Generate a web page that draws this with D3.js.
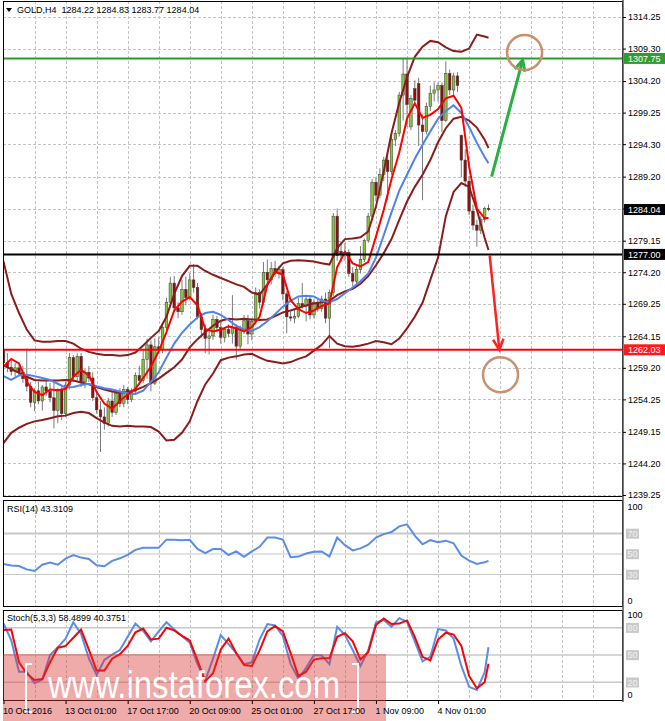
<!DOCTYPE html>
<html>
<head>
<meta charset="utf-8">
<script src="https://cdn.jsdelivr.net/npm/d3@7"></script>
<style>
html, body { margin: 0; padding: 0; background: #fff; }
svg { display: block; font-family: "Liberation Sans", Arial, sans-serif; }
</style>
</head>
<body>
<div id="chart"></div>
<script>
// GOLD H4, 10 Oct - 8 Nov 2016, one entry per H4 bar (bar index = position)
var opens = [
  1262.0,1260.0,1259.3,1258.6,1259.2,1258.5,1257.5,1256.3,1253.8,1255.6,
  1254.0,1256.2,1255.5,1254.5,1252.5,1255.8,1252.0,1256.5,1260.8,1257.8,
  1261.0,1257.0,1258.5,1257.6,1254.5,1252.6,1251.5,1250.5,1254.0,1252.2,
  1255.2,1253.6,1255.8,1254.2,1255.5,1258.0,1257.2,1260.5,1262.8,1256.8,
  1262.5,1262.0,1265.5,1269.5,1272.5,1268.6,1268.0,1271.5,1270.2,1273.0,
  1271.8,1267.2,1265.2,1263.8,1264.2,1266.8,1265.5,1264.0,1265.2,1264.6,
  1265.5,1262.6,1265.2,1266.6,1264.5,1266.5,1271.0,1269.5,1274.2,1273.0,
  1274.8,1274.0,1274.6,1270.8,1267.2,1267.0,1267.3,1269.3,1268.8,1270.0,
  1267.5,1269.5,1268.5,1270.0,1267.0,1271.0,1283.0,1277.5,1277.0,1277.3,
  1274.0,1272.8,1274.6,1276.2,1279.2,1283.0,1288.3,1286.3,1289.5,1291.8,
  1290.0,1295.0,1296.0,1302.0,1305.3,1297.0,1303.0,1303.8,1297.3,1296.3,
  1300.2,1302.3,1302.8,1303.5,1298.0,1305.4,1302.8,1305.0,1295.7,1291.8,
  1288.5,1283.8,1281.6,1280.8,1282.5,1284.22
];
var highs = [
  1264.6,1261.5,1260.5,1260.0,1260.0,1259.5,1262.2,1257.0,1256.0,1257.0,
  1256.5,1257.5,1256.8,1257.0,1256.0,1256.3,1257.0,1261.5,1261.2,1261.5,
  1261.5,1259.0,1259.5,1258.5,1255.3,1254.0,1253.0,1254.5,1255.5,1255.6,
  1256.0,1256.5,1256.2,1256.0,1258.5,1259.5,1262.0,1263.8,1263.5,1263.8,
  1264.0,1266.0,1270.2,1273.5,1273.6,1269.5,1273.0,1273.5,1274.0,1275.5,
  1272.5,1267.8,1266.0,1265.0,1267.5,1267.3,1266.5,1265.6,1266.0,1270.6,
  1266.0,1265.8,1267.5,1267.5,1267.0,1271.8,1271.5,1275.8,1276.2,1275.8,
  1276.0,1275.2,1275.0,1271.2,1268.0,1268.3,1270.2,1272.5,1270.5,1270.6,
  1270.0,1270.2,1270.5,1271.0,1271.5,1283.5,1284.2,1279.0,1278.8,1277.8,
  1275.0,1275.2,1278.3,1279.5,1283.5,1288.8,1289.0,1290.5,1292.3,1292.8,
  1295.5,1296.5,1302.5,1307.8,1307.8,1302.0,1304.3,1304.7,1299.0,1300.8,
  1303.5,1304.0,1304.0,1304.0,1307.3,1306.0,1305.5,1305.6,1295.8,1293.5,
  1289.3,1284.8,1282.4,1283.0,1284.5,1284.83
];
var lows = [
  1259.0,1258.5,1258.0,1257.8,1258.0,1256.8,1255.5,1253.0,1252.4,1253.5,
  1252.5,1254.8,1253.8,1249.7,1250.5,1251.0,1251.5,1255.8,1257.0,1257.2,
  1256.2,1256.0,1257.0,1254.0,1252.0,1246.0,1249.5,1250.0,1251.5,1251.8,
  1253.0,1253.0,1253.5,1253.8,1255.0,1256.5,1256.8,1257.5,1255.5,1256.5,
  1261.5,1261.5,1265.0,1269.0,1268.0,1267.0,1267.5,1269.0,1269.8,1271.0,
  1266.8,1264.0,1261.5,1261.3,1263.6,1264.8,1263.0,1263.2,1264.0,1263.0,
  1260.5,1262.0,1264.5,1262.9,1263.5,1266.0,1268.5,1269.0,1272.0,1272.3,
  1273.5,1273.2,1269.8,1264.6,1266.5,1266.2,1267.0,1268.5,1266.5,1266.8,
  1267.0,1268.0,1268.0,1266.2,1262.3,1270.5,1276.0,1275.8,1276.0,1273.5,
  1272.0,1272.3,1274.0,1275.8,1278.8,1282.5,1285.3,1285.8,1288.5,1285.5,
  1289.5,1294.0,1295.5,1298.0,1297.0,1296.5,1300.8,1294.0,1285.5,1295.8,
  1299.5,1301.0,1301.0,1296.2,1297.8,1302.0,1301.8,1302.5,1289.1,1287.6,
  1283.2,1280.8,1278.2,1280.2,1282.0,1283.77
];
var closes = [
  1260.0,1259.3,1258.6,1259.2,1258.5,1257.5,1256.3,1253.8,1255.6,1254.0,
  1256.2,1255.5,1254.5,1252.5,1255.8,1252.0,1256.5,1260.8,1257.8,1261.0,
  1257.0,1258.5,1257.6,1254.5,1252.6,1251.5,1250.5,1254.0,1252.2,1255.2,
  1253.6,1255.8,1254.2,1255.5,1258.0,1257.2,1260.5,1262.8,1256.8,1262.5,
  1262.0,1265.5,1269.5,1272.5,1268.6,1268.0,1271.5,1270.2,1273.0,1271.8,
  1267.2,1265.2,1263.8,1264.2,1266.8,1265.5,1264.0,1265.2,1264.6,1265.5,
  1262.6,1265.2,1266.6,1264.5,1266.5,1271.0,1269.5,1274.2,1273.0,1274.8,
  1274.0,1274.6,1270.8,1267.2,1267.0,1267.3,1269.3,1268.8,1270.0,1267.5,
  1269.5,1268.5,1270.0,1267.0,1271.0,1283.0,1276.8,1277.0,1277.3,1274.0,
  1272.8,1274.6,1276.2,1279.2,1283.0,1288.3,1286.3,1289.5,1291.8,1290.0,
  1295.0,1296.0,1302.0,1305.3,1300.5,1301.5,1301.2,1297.3,1296.3,1300.2,
  1302.3,1302.8,1303.5,1298.0,1305.4,1302.8,1305.0,1303.5,1291.8,1288.5,
  1283.8,1281.6,1280.8,1282.5,1284.2,1284.04
];

// indicator readings, taken every 2nd bar (0,2,...,124) plus the last bar 125
var fastMA = [
  1259.4,1260.6,1259.9,1257.0,1255.4,1254.9,1255.8,1255.7,1255.9,1257.8,
  1258.9,1258.0,1255.4,1253.6,1252.8,1254.0,1255.0,1255.9,1257.6,1259.4,
  1261.8,1264.8,1268.2,1269.6,1270.3,1269.0,1265.3,1264.9,1265.2,1265.7,
  1265.4,1264.9,1265.6,1267.2,1272.2,1274.3,1273.8,1269.8,1268.4,1267.8,
  1268.2,1268.9,1269.3,1275.0,1277.4,1275.6,1275.1,1275.8,1279.8,1284.0,
  1288.8,1293.0,1298.3,1300.7,1298.4,1298.9,1299.8,1301.5,1301.9,1300.0,
  1290.8,1284.2,1282.7,1282.7
];
var slowMA = [
  1257.9,1257.3,1258.0,1258.1,1257.9,1257.6,1257.3,1256.7,1256.1,1256.2,
  1256.5,1256.7,1256.3,1256.0,1255.8,1255.5,1255.2,1255.1,1255.6,1257.0,
  1258.5,1260.8,1263.0,1264.7,1266.0,1267.1,1267.8,1268.0,1267.5,1266.7,
  1265.8,1265.2,1265.0,1265.6,1266.5,1267.6,1268.8,1269.7,1270.4,1270.5,
  1270.4,1269.7,1269.5,1270.0,1270.9,1271.8,1272.8,1274.0,1276.5,1280.0,
  1283.6,1287.0,1289.5,1292.0,1294.2,1296.3,1298.3,1299.5,1300.4,1299.2,
  1297.0,1294.5,1292.3,1291.3
];
var bandUpper = [
  1275.9,1270.8,1267.8,1265.2,1263.5,1263.3,1263.3,1263.4,1263.4,1263.0,
  1262.2,1261.7,1261.4,1261.2,1261.2,1261.1,1261.2,1261.6,1262.7,1263.9,
  1265.0,1267.2,1270.8,1273.6,1275.2,1275.2,1274.4,1273.8,1273.3,1272.8,
  1272.3,1271.9,1271.0,1270.7,1272.3,1274.2,1275.6,1276.0,1276.1,1276.0,
  1275.9,1275.6,1275.4,1278.0,1279.4,1279.5,1279.7,1280.6,1284.5,1290.0,
  1296.0,1300.8,1304.8,1308.0,1309.6,1310.5,1310.3,1309.5,1308.9,1308.8,
  1309.3,1311.5,1311.2,1311.0
];
var bandMiddle = [
  1259.6,1259.0,1258.4,1257.8,1257.3,1257.2,1257.2,1257.2,1257.3,1257.2,
  1256.9,1256.6,1256.2,1255.8,1255.5,1255.3,1255.4,1255.7,1256.2,1256.8,
  1257.5,1258.4,1259.3,1260.5,1262.4,1263.7,1264.8,1265.8,1266.6,1266.9,
  1266.8,1266.9,1266.8,1266.7,1266.8,1267.3,1267.9,1268.2,1268.6,1269.0,
  1269.3,1269.5,1269.7,1270.6,1271.2,1271.6,1272.4,1273.6,1275.3,1277.2,
  1279.4,1282.4,1285.3,1287.6,1289.5,1291.8,1294.6,1296.8,1298.3,1298.6,
  1298.0,1296.9,1295.0,1293.7
];
var bandLower = [
  1247.4,1249.0,1249.8,1250.4,1250.8,1251.0,1251.3,1251.6,1251.7,1252.1,
  1252.3,1252.1,1251.3,1250.6,1250.1,1250.0,1250.1,1250.0,1250.0,1249.9,
  1249.2,1247.8,1247.9,1249.0,1250.8,1254.0,1256.6,1258.3,1260.4,1260.8,
  1261.0,1261.3,1261.4,1260.8,1260.3,1260.1,1259.9,1260.1,1260.6,1261.0,
  1261.9,1262.8,1264.2,1263.0,1262.6,1262.5,1262.7,1263.0,1263.4,1263.2,
  1262.9,1263.8,1265.4,1267.2,1269.4,1273.0,1276.5,1283.0,1286.8,1288.2,
  1287.6,1284.0,1279.6,1277.7
];
var rsi = [
  40.3,38.8,38.2,35.0,33.5,39.5,41.6,39.5,45.5,49.0,
  46.5,45.2,39.0,38.0,43.3,45.8,49.2,54.0,56.0,56.0,
  56.0,64.0,63.8,63.5,63.8,55.0,50.8,54.8,54.8,49.0,
  52.5,47.2,52.5,57.0,66.0,66.1,64.0,46.8,47.5,50.5,
  52.2,52.5,47.5,66.0,58.6,53.5,55.5,59.0,66.0,69.4,
  71.5,77.0,79.0,68.0,59.5,63.5,61.5,63.0,60.5,48.5,
  43.5,40.3,41.9,43.3
];
var stochK = [
  84.8,66.0,31.5,31.5,19.0,23.0,50.0,58.5,68.0,86.0,
  73.0,46.3,28.0,44.5,50.5,55.5,70.0,84.5,76.5,65.0,
  76.0,86.0,78.0,71.0,63.5,40.0,22.0,46.0,72.0,62.0,
  52.0,40.0,42.0,67.0,84.0,82.5,71.0,40.0,24.0,36.0,
  50.0,49.5,40.0,81.0,72.0,55.5,38.0,55.0,86.0,88.5,
  81.0,90.5,86.5,65.0,43.0,48.0,78.5,77.0,68.0,38.0,
  15.0,11.6,31.0,58.5
];
var stochD = [
  77.4,78.0,42.0,29.5,22.5,23.5,42.0,58.0,60.0,69.0,
  78.0,56.0,33.0,33.0,46.0,51.0,60.0,75.0,79.0,67.0,
  68.0,80.0,77.0,71.0,66.0,44.0,21.0,30.0,56.0,68.0,
  52.0,39.0,38.0,55.0,76.0,82.0,76.0,52.0,27.0,31.7,
  45.0,46.3,46.3,70.0,74.0,65.0,45.0,53.0,83.0,90.2,
  84.0,84.5,88.0,70.0,48.0,44.0,67.0,74.5,72.5,60.0,
  27.0,13.5,20.0,40.4
];

var priceTicks = [1314.25,1309.30,1304.20,1299.25,1294.30,1289.20,1284.20,1279.15,
                  1274.20,1269.25,1264.15,1259.20,1254.25,1249.15,1244.20,1239.25];
var dateBars = [0,16,32,48,64,80,96,112];
var dateLabels = ["10 Oct 2016","13 Oct 01:00","17 Oct 17:00","20 Oct 09:00",
                  "25 Oct 01:00","27 Oct 17:00","1 Nov 09:00","4 Nov 01:00"];
var levelPrices = [1307.75, 1277.00, 1262.03];
var bidPrice = 1284.04;
var rsiLevels = [70, 50, 30];
var stochLevels = [80, 50, 20];

// analyst marks (bar, price)
var upArrow = [[125.8, 1289.2], [133.8, 1307.5]];
var downArrow = [[125.3, 1276.9], [127.8, 1262.0]];
var targets = [[134.3, 1308.7], [128.1, 1258.1]];

var W = 665, H = 721, L = 3, R = 623;
var sampleBars = d3.range(0, 125, 2).concat([125]);

var svg = d3.select("#chart").append("svg").attr("width", W).attr("height", H);

var x = d3.scaleLinear().domain([0, 125]).range([3.5, 488.5]);
var yP = d3.scaleLinear().domain([1238.93, 1316.45]).range([497, 3]);
var yR = d3.scaleLinear().domain([0, 100]).range([605.25, 502.75]);
var yS = d3.scaleLinear().domain([0, 100]).range([700.5, 609.5]);

var panels = [
  { id: "clipMain", top: 1, bot: 497 },
  { id: "clipRsi", top: 500, bot: 607 },
  { id: "clipSto", top: 610, bot: 701 }
];
var defs = svg.append("defs");
panels.forEach(function (p) {
  defs.append("clipPath").attr("id", p.id).append("rect")
    .attr("x", L).attr("y", p.top).attr("width", R - L).attr("height", p.bot - p.top);
});

// vertical dashed grid in every panel
var gridBars = d3.range(8, 160, 8);
panels.forEach(function (p) {
  svg.append("g").selectAll("line").data(gridBars).join("line")
    .attr("x1", function (d) { return Math.round(x(d)) + 0.5; })
    .attr("x2", function (d) { return Math.round(x(d)) + 0.5; })
    .attr("y1", p.top).attr("y2", p.bot)
    .attr("stroke", "#c4c4c4").attr("stroke-dasharray", "3,2");
});
// horizontal grid in price panel
svg.append("g").selectAll("line").data(priceTicks).join("line")
  .attr("x1", L).attr("x2", R)
  .attr("y1", function (d) { return Math.round(yP(d)) + 0.5; })
  .attr("y2", function (d) { return Math.round(yP(d)) + 0.5; })
  .attr("stroke", "#c4c4c4").attr("stroke-dasharray", "3,2");

// candles
var main = svg.append("g").attr("clip-path", "url(#clipMain)");
var bars = d3.range(closes.length);
main.append("g").selectAll("line").data(bars).join("line")
  .attr("x1", function (i) { return x(i); }).attr("x2", function (i) { return x(i); })
  .attr("y1", function (i) { return yP(highs[i]); })
  .attr("y2", function (i) { return yP(lows[i]); })
  .attr("stroke", "#7a7a7a").attr("stroke-width", 1);
main.append("g").selectAll("rect").data(bars).join("rect")
  .attr("x", function (i) { return x(i) - 1.3; })
  .attr("width", 2.6)
  .attr("y", function (i) { return yP(Math.max(opens[i], closes[i])); })
  .attr("height", function (i) { return Math.max(0.8, Math.abs(yP(opens[i]) - yP(closes[i]))); })
  .attr("fill", function (i) { return closes[i] >= opens[i] ? "#86c43a" : "#8b1010"; })
  .attr("stroke", "#3a3a3a").attr("stroke-width", 0.5);

function series(scale) {
  return d3.line().x(function (d, i) { return x(sampleBars[i]); }).y(function (d) { return scale(d); });
}
var lineP = series(yP);
[bandUpper, bandMiddle, bandLower].forEach(function (s) {
  main.append("path").attr("d", lineP(s)).attr("fill", "none")
    .attr("stroke", "#8b1c1c").attr("stroke-width", 2);
});
main.append("path").attr("d", lineP(slowMA)).attr("fill", "none")
  .attr("stroke", "#4f82ea").attr("stroke-width", 2);
main.append("path").attr("d", lineP(fastMA)).attr("fill", "none")
  .attr("stroke", "#ff0000").attr("stroke-width", 2);

// horizontal levels
var levelColors = ["#2a9a2a", "#000000", "#ff0000"];
svg.append("g").selectAll("line").data(levelPrices).join("line")
  .attr("x1", L).attr("x2", R)
  .attr("y1", function (d) { return yP(d); }).attr("y2", function (d) { return yP(d); })
  .attr("stroke", function (d, i) { return levelColors[i]; }).attr("stroke-width", 2);

// arrows and target circles
function arrow(pts, color, w) {
  var x1 = x(pts[0][0]), y1 = yP(pts[0][1]), x2 = x(pts[1][0]), y2 = yP(pts[1][1]);
  var a = Math.atan2(y2 - y1, x2 - x1), h = 12, s = 0.45;
  svg.append("line").attr("x1", x1).attr("y1", y1).attr("x2", x2).attr("y2", y2)
    .attr("stroke", color).attr("stroke-width", w);
  svg.append("path")
    .attr("d", "M" + (x2 - h * Math.cos(a - s)) + "," + (y2 - h * Math.sin(a - s)) +
               "L" + x2 + "," + y2 +
               "L" + (x2 - h * Math.cos(a + s)) + "," + (y2 - h * Math.sin(a + s)))
    .attr("fill", "none").attr("stroke", color).attr("stroke-width", w)
    .attr("stroke-linejoin", "miter");
}
arrow(upArrow, "#25b040", 3);
arrow(downArrow, "#ff2020", 2.5);
svg.append("g").selectAll("circle").data(targets).join("circle")
  .attr("cx", function (d) { return x(d[0]); }).attr("cy", function (d) { return yP(d[1]); })
  .attr("r", 17.5).attr("fill", "none").attr("stroke", "#c8906c").attr("stroke-width", 2.5);

// RSI panel
var rsiG = svg.append("g").attr("clip-path", "url(#clipRsi)");
rsiG.selectAll("line").data(rsiLevels).join("line")
  .attr("x1", L).attr("x2", R)
  .attr("y1", function (d) { return yR(d); }).attr("y2", function (d) { return yR(d); })
  .attr("stroke", "#c8c8c8").attr("stroke-width", function (d) { return d === 70 ? 2 : 1.2; });
rsiG.append("path").attr("d", series(yR)(rsi)).attr("fill", "none")
  .attr("stroke", "#5a8ce8").attr("stroke-width", 2);

// Stochastic panel
var stoG = svg.append("g").attr("clip-path", "url(#clipSto)");
stoG.selectAll("line").data(stochLevels).join("line")
  .attr("x1", L).attr("x2", R)
  .attr("y1", function (d) { return yS(d); }).attr("y2", function (d) { return yS(d); })
  .attr("stroke", "#c8c8c8").attr("stroke-width", 1.5);
stoG.append("path").attr("d", series(yS)(stochK)).attr("fill", "none")
  .attr("stroke", "#5a8ce8").attr("stroke-width", 2);
stoG.append("path").attr("d", series(yS)(stochD)).attr("fill", "none")
  .attr("stroke", "#ff0000").attr("stroke-width", 2);

// panel frames
panels.forEach(function (p) {
  svg.append("rect").attr("x", L + 0.5).attr("y", p.top + 0.5)
    .attr("width", R - L - 1).attr("height", p.bot - p.top - 1)
    .attr("fill", "none").attr("stroke", "#000").attr("stroke-width", 1);
});
svg.append("line").attr("x1", R).attr("x2", R).attr("y1", 0).attr("y2", 702)
  .attr("stroke", "#555").attr("stroke-width", 1.5);

// price axis
var axP = svg.append("g").attr("transform", "translate(" + R + ",0)")
  .call(d3.axisRight(yP).tickValues(priceTicks).tickSize(3).tickPadding(2)
    .tickFormat(d3.format(".2f")));
axP.select(".domain").remove();
axP.selectAll("text").attr("font-size", 9).attr("font-family", "Liberation Sans, Arial, sans-serif")
  .attr("fill", "#000");
axP.selectAll("line").attr("stroke", "#000");

// price boxes
var boxPrices = levelPrices.concat([bidPrice]);
var boxColors = ["#2f9e2f", "#000000", "#ff1a1a", "#000000"];
var boxes = svg.append("g").selectAll("g").data(boxPrices).join("g")
  .attr("transform", function (d) { return "translate(" + (R + 1) + "," + yP(d) + ")"; });
boxes.append("rect").attr("x", 0).attr("y", -5.5).attr("width", W - R - 1).attr("height", 11)
  .attr("fill", function (d, i) { return boxColors[i]; });
boxes.append("text").attr("x", 4).attr("y", 3.3).attr("font-size", 9).attr("fill", "#fff")
  .text(function (d) { return d.toFixed(2); });

// indicator scale labels (levels in grey boxes)
function indLabels(scale, vals, levels, topShift, botShift) {
  var g = svg.append("g");
  var lab = g.selectAll("g").data(vals).join("g")
    .attr("transform", function (d) {
      var yy = d === 100 ? scale(d) + topShift : (d === 0 ? scale(d) + botShift : scale(d) + 3.2);
      return "translate(" + (R + 3) + "," + yy + ")";
    });
  lab.filter(function (d) { return levels.indexOf(d) >= 0; })
    .append("rect").attr("x", 0).attr("y", -8).attr("width", 13).attr("height", 10)
    .attr("fill", "#c9c9c9");
  lab.append("text").attr("x", 1.5).attr("y", 0).attr("font-size", 9)
    .attr("fill", function (d) { return levels.indexOf(d) >= 0 ? "#f2f2f2" : "#000"; })
    .text(function (d) { return d; });
}
indLabels(yR, [100, 70, 50, 30, 0], rsiLevels, 7, -1);
indLabels(yS, [100, 80, 50, 20, 0], stochLevels, 8, -3);

// titles
svg.append("path").attr("d", "M6,8 L12,8 L9,12 Z").attr("fill", "#000");
svg.append("text").attr("x", 17).attr("y", 13).attr("font-size", 9).attr("fill", "#000")
  .attr("xml:space", "preserve").text("GOLD,H4  1284.22 1284.83 1283.77 1284.04");
svg.append("text").attr("x", 7).attr("y", 512).attr("font-size", 9).attr("fill", "#000")
  .text("RSI(14) 43.3109");
svg.append("text").attr("x", 7).attr("y", 621).attr("font-size", 9).attr("fill", "#000")
  .text("Stoch(5,3,3) 58.4899 40.3751");

// watermark
var wm = svg.append("g");
wm.append("rect").attr("x", L).attr("y", 654).attr("width", 383).attr("height", H - 654)
  .attr("fill", "#d93535").attr("opacity", 0.42);
wm.append("text").attr("x", 48).attr("y", 698).attr("font-size", 38)
  .attr("textLength", 292).attr("lengthAdjust", "spacingAndGlyphs")
  .attr("fill", "#fff").text("www.instaforex.com");
wm.append("path").attr("d", "M32,664 H26 V712 H32 M352,664 H358 V712 H352")
  .attr("fill", "none").attr("stroke", "#fff").attr("stroke-width", 2);

// time axis
var axT = svg.append("g").attr("transform", "translate(0,701)")
  .call(d3.axisBottom(x).tickValues(dateBars).tickSize(3)
    .tickFormat(function (d, i) { return dateLabels[i]; }));
axT.select(".domain").remove();
axT.selectAll("line").attr("stroke", "#000");
axT.selectAll("text").attr("font-size", 9).attr("font-family", "Liberation Sans, Arial, sans-serif")
  .attr("fill", "#000").attr("text-anchor", "start").attr("x", -1).attr("y", 13).attr("dy", 0);
</script>
</body>
</html>
